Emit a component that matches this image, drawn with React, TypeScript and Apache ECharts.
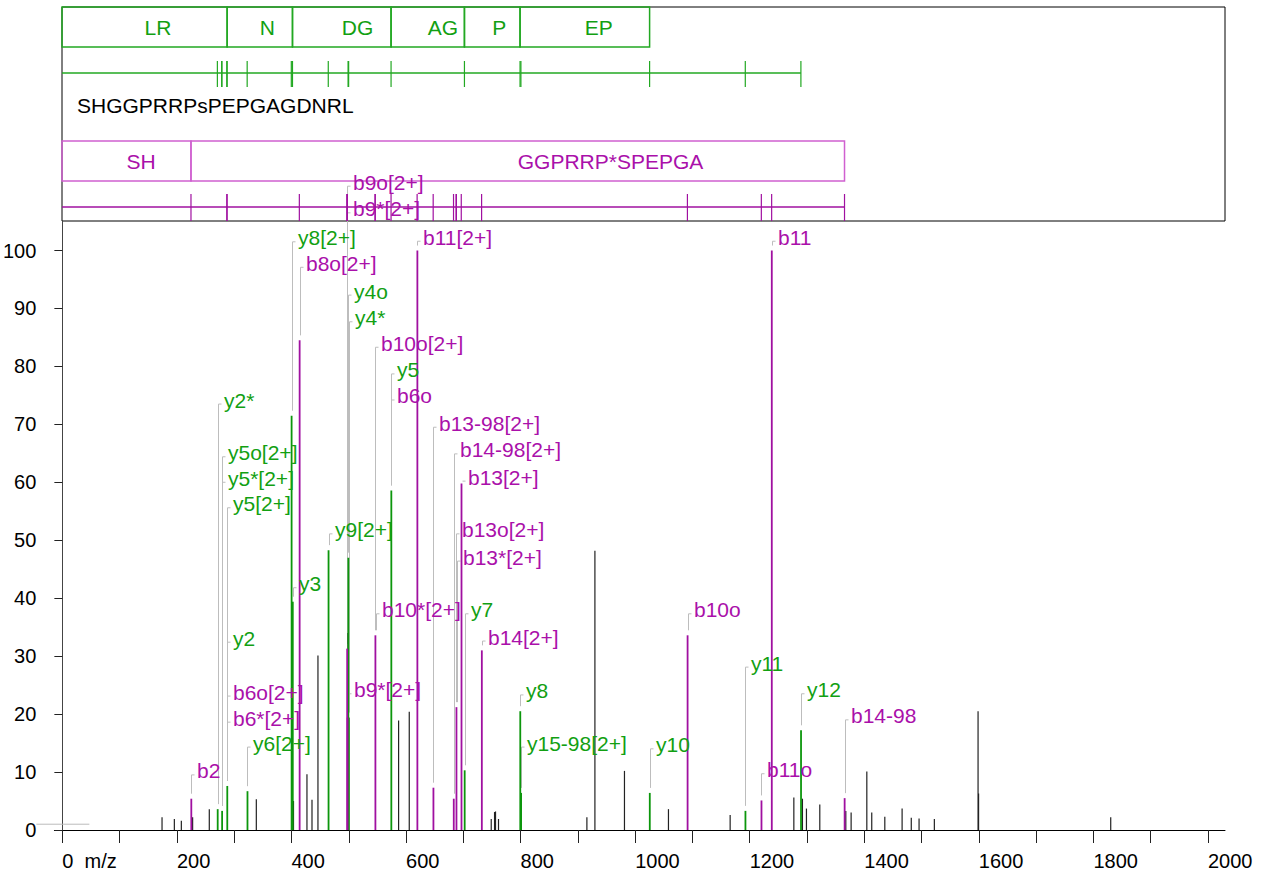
import React, { useEffect, useRef } from "react";
import * as echarts from "echarts";

// ---------- axes ----------
const X_TICKS = [0, 100, 200, 300, 400, 500, 600, 700, 800, 900, 1000, 1100, 1200, 1300, 1400, 1500, 1600, 1700, 1800, 1900, 2000];
const X_LABELS = [0, 200, 400, 600, 800, 1000, 1200, 1400, 1600, 1800, 2000];
const Y_TICKS = [0, 10, 20, 30, 40, 50, 60, 70, 80, 90, 100];
const X_MIN = -13.96;
const X_MAX = 2029.7;
const Y_MAX = 105.1;

// ---------- unannotated peaks ----------
const OTHER_MZ = [174.0, 195.5, 207.7, 227.4, 256.5, 338.6, 403.5, 427.0, 435.8, 446.2, 498.6, 587.0, 605.6, 748.7, 754.5, 756.2, 761.4, 915.7, 929.7, 981.3, 1058.1, 1165.8, 1277.0, 1292.0, 1299.0, 1322.3, 1367.7, 1377.0, 1404.4, 1413.0, 1435.8, 1466.0, 1482.0, 1495.6, 1522.3, 1598.6, 1599.5, 1830.2];
const OTHER_INT = [2.2, 1.9, 1.6, 2.2, 3.6, 5.3, 5.0, 9.6, 5.2, 30.1, 34.0, 18.9, 20.4, 1.9, 3.1, 3.2, 1.9, 2.2, 48.2, 10.2, 3.6, 2.6, 5.6, 5.4, 3.7, 4.4, 3.3, 3.0, 10.1, 3.0, 2.3, 3.7, 2.1, 2.0, 1.9, 20.5, 6.3, 2.2];

// ---------- y-ion peaks ----------
const Y_ION_MZ = [271.17, 278.9, 287.9, 323.17, 400.2, 402.25, 464.7, 499.3, 500.2, 574.29, 702.35, 799.4, 800.9, 1025.5, 1192.5, 1289.55];
const Y_ION_INT = [3.6, 3.3, 7.6, 6.7, 71.5, 39.4, 48.3, 47.0, 19.4, 58.6, 10.3, 20.5, 6.4, 6.4, 3.3, 17.2];

// ---------- b-ion peaks ----------
const B_ION_MZ = [225.1, 414.22, 497.9, 497.2, 546.5, 619.77, 647.8, 683.3, 688.0, 696.8, 732.3, 1091.5, 1220.5, 1238.5, 1365.67];
const B_ION_INT = [5.4, 84.5, 19.4, 31.3, 33.6, 100, 7.3, 5.4, 21.2, 59.8, 31.0, 33.6, 5.1, 100, 5.5];

// ---------- annotations ----------
const LABEL_TEXT = ["b2", "y2*", "y5o[2+]", "y5*[2+]", "y5[2+]", "y2", "b6o[2+]", "b6*[2+]", "y6[2+]", "y8[2+]", "y3", "b8o[2+]", "y9[2+]", "b9o[2+]", "b9*[2+]", "y4o", "y4*", "b10o[2+]", "b10*[2+]", "y5", "b6o", "b11[2+]", "b13-98[2+]", "b14-98[2+]", "b13o[2+]", "b13*[2+]", "b13[2+]", "y7", "b14[2+]", "b9*[2+]", "y8", "y15-98[2+]", "y10", "b10o", "y11", "b11o", "b11", "y12", "b14-98"];
const LABEL_MZ = [225.1, 271.17, 278.64, 279.13, 287.65, 288.2, 287.64, 288.13, 323.17, 400.2, 402.25, 414.22, 464.7, 497.2, 497.7, 499.26, 500.24, 546.25, 546.74, 574.29, 574.28, 619.77, 647.8, 683.3, 687.8, 688.3, 696.8, 702.35, 732.3, 497.9, 799.4, 800.9, 1025.5, 1091.5, 1192.5, 1220.5, 1238.5, 1289.55, 1365.67];
const LABEL_ION = ["b", "y", "y", "y", "y", "y", "b", "b", "y", "y", "y", "b", "y", "b", "b", "y", "y", "b", "b", "y", "b", "b", "b", "b", "b", "b", "b", "y", "b", "b", "y", "y", "y", "b", "y", "b", "b", "y", "b"];
const LABEL_PEAK_INT = [5.4, 3.6, 3.3, 3.3, 7.6, 7.6, 7.6, 7.6, 6.7, 71.5, 39.4, 84.5, 48.3, 31.3, 31.3, 47.0, 19.4, 33.6, 33.6, 58.6, 58.6, 100, 7.3, 5.4, 21.2, 21.2, 59.8, 10.3, 31.0, 19.4, 20.5, 6.4, 6.4, 33.6, 3.3, 5.1, 100, 17.2, 5.5];
// label placement heights (layout, in intensity units)
const LABEL_LEVEL = [10.2, 74.2, 65.1, 60.7, 56.3, 33.1, 23.8, 19.3, 15.0, 102.2, 42.5, 97.8, 51.8, 111.8, 107.2, 93.0, 88.4, 84.0, 38.0, 79.4, 74.9, 102.3, 70.2, 65.6, 51.8, 47.1, 60.9, 38.0, 33.3, 24.2, 24.0, 15.0, 14.7, 38.0, 28.8, 10.4, 102.3, 24.2, 19.7];

// ---------- fragment map ----------
const SEQUENCE = "SHGGPRRPsPEPGAGDNRL";
const Y_FRAG_TEXT = ["LR", "N", "DG", "AG", "P", "EP"];
const Y_FRAG_EDGES = [0, 288.2, 402.25, 574.29, 702.35, 799.4, 1025.5];
const B_FRAG_TEXT = ["SH", "GGPRRP*SPEPGA"];
const B_FRAG_EDGES = [0, 225.1, 1365.67];
const ORIGIN_MARK = [0, 1.0];

// ---------- styles ----------
const FONT = '"Liberation Sans", Arial, Helvetica, sans-serif';
const GREEN_TEXT = "#12a012";
const GREEN_LINE = "#0c960c";
const GREEN_BOX = "#22a822";
const MAG_TEXT = "#aa10aa";
const MAG_LINE = "#a010a0";
const MAG_BOX = "#d060d0";
const PEAK_BLACK = "#222222";
const CONNECTOR = "#bdbdbd";
const TEXT_FONT = `21px ${FONT}`;

function buildOption() {
  const peakData: number[][] = [];
  OTHER_MZ.forEach((m, i) => peakData.push([m, OTHER_INT[i], 0]));
  Y_ION_MZ.forEach((m, i) => peakData.push([m, Y_ION_INT[i], 1]));
  B_ION_MZ.forEach((m, i) => peakData.push([m, B_ION_INT[i], 2]));

  const labelData = LABEL_TEXT.map((_, i) => [LABEL_MZ[i], LABEL_PEAK_INT[i], LABEL_LEVEL[i], i]);

  const fragData: number[][] = [];
  Y_FRAG_TEXT.forEach((_, i) => fragData.push([Y_FRAG_EDGES[i], Y_FRAG_EDGES[i + 1], i, 0]));
  B_FRAG_TEXT.forEach((_, i) => fragData.push([B_FRAG_EDGES[i], B_FRAG_EDGES[i + 1], i, 1]));

  const yTickMz = Array.from(new Set(LABEL_MZ.filter((_, i) => LABEL_ION[i] === "y")));
  const bTickMz = Array.from(new Set(LABEL_MZ.filter((_, i) => LABEL_ION[i] === "b")));
  const tickData: number[][] = [];
  yTickMz.forEach((m) => tickData.push([m, 0]));
  bTickMz.forEach((m) => tickData.push([m, 1]));
  const baseData = [
    [0, Math.max(...yTickMz), 0],
    [0, Math.max(...bTickMz), 1],
  ];

  // rows inside the fragment panel (offsets from panel top)
  const BOX_TOP = [0, 134];
  const BOX_H = 40;
  const LINE_Y = [66, 200];
  const TICK_SPAN = [[54, 80], [187, 214]];

  return {
    animation: false,
    backgroundColor: "#ffffff",
    textStyle: { fontFamily: FONT },
    grid: [
      { left: 54, right: 45, top: 221, bottom: 48, show: false },
      { left: 62, right: 45, top: 7, height: 214, show: true, borderColor: "#000", borderWidth: 1, backgroundColor: "transparent" },
    ],
    xAxis: [
      {
        gridIndex: 0,
        type: "value",
        min: X_MIN,
        max: X_MAX,
        axisLine: { show: true, onZero: true, lineStyle: { color: "#000", width: 1 } },
        axisTick: { show: true, length: 13, customValues: X_TICKS, lineStyle: { color: "#222", width: 1 } },
        axisLabel: {
          customValues: X_LABELS,
          formatter: (v: number) => (v === 0 ? "0  m/z" : String(v)),
          align: "left",
          margin: 21,
          fontSize: 20,
          color: "#000",
          fontFamily: FONT,
        },
        splitLine: { show: false },
      },
      { gridIndex: 1, type: "value", min: 0, max: X_MAX, show: false },
    ],
    yAxis: [
      {
        gridIndex: 0,
        type: "value",
        min: 0,
        max: Y_MAX,
        axisLine: { show: true, onZero: true, lineStyle: { color: "#444", width: 1 } },
        axisTick: { show: true, length: 8, customValues: Y_TICKS, lineStyle: { color: "#222", width: 1 } },
        axisLabel: { customValues: Y_TICKS, margin: 18, fontSize: 20, color: "#000", fontFamily: FONT },
        splitLine: { show: false },
      },
      { gridIndex: 1, type: "value", min: 0, max: 1, show: false },
    ],
    graphic: [
      {
        type: "text",
        left: 77,
        top: 95,
        silent: true,
        style: { text: SEQUENCE, font: TEXT_FONT, fill: "#000" },
      },
    ],
    series: [
      {
        type: "custom",
        name: "origin",
        xAxisIndex: 0,
        yAxisIndex: 0,
        silent: true,
        data: [ORIGIN_MARK],
        renderItem: (params: any, api: any) => {
          const p = api.coord([api.value(0), api.value(1)]);
          return { type: "line", shape: { x1: p[0] - 26, y1: p[1], x2: p[0] + 27, y2: p[1] }, style: { stroke: "#bbbbbb", lineWidth: 1 } };
        },
      },
      {
        type: "custom",
        name: "connectors",
        xAxisIndex: 0,
        yAxisIndex: 0,
        silent: true,
        z: 1,
        data: labelData,
        renderItem: (params: any, api: any) => {
          const mz = api.value(0);
          const peak = api.coord([mz, api.value(1)]);
          const lab = api.coord([mz, api.value(2)]);
          const x = Math.round(peak[0]) + 0.5;
          const yStub = lab[1] + 4;
          const yBottom = peak[1] - 5;
          const pts = yBottom > yStub ? [[x, yBottom], [x, yStub], [x + 3, yStub]] : [[x, yStub], [x + 3, yStub]];
          return { type: "polyline", shape: { points: pts }, style: { stroke: CONNECTOR, lineWidth: 1, fill: null } };
        },
      },
      {
        type: "custom",
        name: "peaks",
        xAxisIndex: 0,
        yAxisIndex: 0,
        silent: true,
        z: 2,
        data: peakData,
        renderItem: (params: any, api: any) => {
          const mz = api.value(0);
          const kind = api.value(2);
          const p0 = api.coord([mz, 0]);
          const p1 = api.coord([mz, api.value(1)]);
          const color = kind === 1 ? GREEN_LINE : kind === 2 ? MAG_LINE : PEAK_BLACK;
          return {
            type: "line",
            shape: { x1: p0[0], y1: p0[1], x2: p1[0], y2: p1[1] },
            style: { stroke: color, lineWidth: kind === 0 ? 1.2 : 1.8 },
          };
        },
      },
      {
        type: "custom",
        name: "labels",
        xAxisIndex: 0,
        yAxisIndex: 0,
        silent: true,
        z: 3,
        data: labelData,
        renderItem: (params: any, api: any) => {
          const idx = api.value(3);
          const p = api.coord([api.value(0), api.value(2)]);
          return {
            type: "text",
            style: {
              text: LABEL_TEXT[idx],
              x: Math.round(p[0]) + 6,
              y: p[1],
              fill: LABEL_ION[idx] === "y" ? GREEN_TEXT : MAG_TEXT,
              font: TEXT_FONT,
              align: "left",
              verticalAlign: "middle",
            },
          };
        },
      },
      {
        type: "custom",
        name: "fragments",
        xAxisIndex: 1,
        yAxisIndex: 1,
        silent: true,
        data: fragData,
        renderItem: (params: any, api: any) => {
          const cs = params.coordSys;
          const x1 = api.coord([api.value(0), 0])[0];
          const x2 = api.coord([api.value(1), 0])[0];
          const row = api.value(3);
          const idx = api.value(2);
          const top = cs.y + BOX_TOP[row];
          const color = row === 0 ? GREEN_BOX : MAG_BOX;
          const text = row === 0 ? Y_FRAG_TEXT[idx] : B_FRAG_TEXT[idx];
          return {
            type: "group",
            children: [
              { type: "rect", shape: { x: x1, y: top, width: x2 - x1, height: BOX_H }, style: { fill: "none", stroke: color, lineWidth: 1.5 } },
              {
                type: "text",
                style: {
                  text,
                  x: (x1 + x2) / 2,
                  y: top + BOX_H / 2,
                  fill: row === 0 ? GREEN_TEXT : MAG_TEXT,
                  font: TEXT_FONT,
                  align: "left",
                  verticalAlign: "middle",
                },
              },
            ],
          };
        },
      },
      {
        type: "custom",
        name: "fragmentBase",
        xAxisIndex: 1,
        yAxisIndex: 1,
        silent: true,
        data: baseData,
        renderItem: (params: any, api: any) => {
          const cs = params.coordSys;
          const row = api.value(2);
          const x1 = api.coord([api.value(0), 0])[0];
          const x2 = api.coord([api.value(1), 0])[0];
          const y = cs.y + LINE_Y[row];
          return { type: "line", shape: { x1, y1: y, x2, y2: y }, style: { stroke: row === 0 ? GREEN_BOX : MAG_LINE, lineWidth: 1.5 } };
        },
      },
      {
        type: "custom",
        name: "fragmentTicks",
        xAxisIndex: 1,
        yAxisIndex: 1,
        silent: true,
        data: tickData,
        renderItem: (params: any, api: any) => {
          const cs = params.coordSys;
          const row = api.value(1);
          const x = api.coord([api.value(0), 0])[0];
          const span = TICK_SPAN[row];
          return {
            type: "line",
            shape: { x1: x, y1: cs.y + span[0], x2: x, y2: cs.y + span[1] },
            style: { stroke: row === 0 ? GREEN_BOX : MAG_LINE, lineWidth: 1.2 },
          };
        },
      },
    ],
  };
}

export default function App() {
  const ref = useRef<HTMLDivElement>(null);
  useEffect(() => {
    if (!ref.current) return;
    const chart = echarts.init(ref.current, null, { renderer: "svg" });
    chart.setOption(buildOption() as any);
    return () => chart.dispose();
  }, []);
  return (
    <div
      ref={ref}
      style={{ position: "fixed", left: 0, top: 0, width: 1270, height: 878, background: "#fff" }}
    />
  );
}
